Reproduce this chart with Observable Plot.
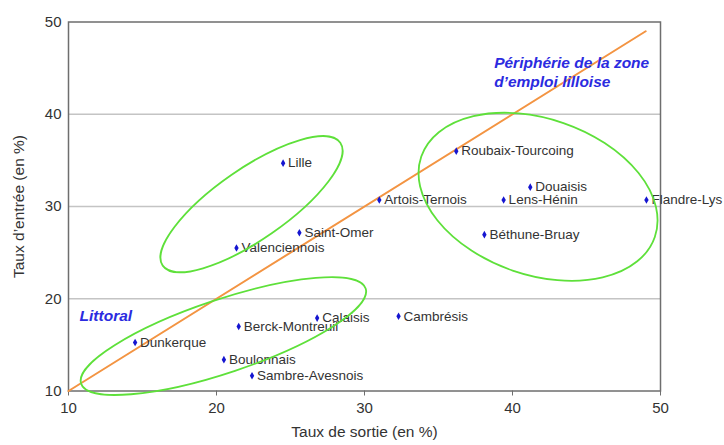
<!DOCTYPE html>
<html><head><meta charset="utf-8">
<script src="https://cdn.jsdelivr.net/npm/d3@7"></script>
<script src="https://cdn.jsdelivr.net/npm/@observablehq/plot@0.6"></script>
<style>
html,body{margin:0;padding:0;background:#fff;}
svg{font-family:"Liberation Sans",Arial,sans-serif;}
</style></head>
<body><div id="chart"></div>
<script>
const zones = ["Lille","Saint-Omer","Valenciennois","Calaisis","Berck-Montreuil","Dunkerque","Boulonnais","Sambre-Avesnois","Roubaix-Tourcoing","Douaisis","Artois-Ternois","Lens-Hénin","Flandre-Lys","Béthune-Bruay","Cambrésis"];
const tauxSortie = [24.5,25.6,21.35,26.8,21.5,14.5,20.5,22.4,36.2,41.2,31.0,39.4,49.05,38.1,32.3];
const tauxEntree = [34.7,27.15,25.5,17.9,17.0,15.25,13.4,11.65,36.0,32.1,30.7,30.7,30.7,26.95,18.1];
const diagX = [10,49];
const diagY = [10,49];
const gridY = [20,30,40];
const xTicks = [10,20,30,40,50];
const yTicks = [10,20,30,40,50];
// groupes : centre (données), demi-axes (px), rotation (deg)
const groupCx = [22.4,20.5,41.76];
const groupCy = [30.2,15.9,31.0];
const groupRx = [108,150,123.5];
const groupRy = [35.5,36.6,78];
const groupRot = [-34.7,-18.5,19];
const annoText = ["Littoral","Périphérie de la zone","d’emploi lilloise"];
const annoX = [10.75,38.76,38.76];
const annoY = [18.1,45.6,43.5];

const pts = zones.map((z,i)=>({zone:z,x:tauxSortie[i],y:tauxEntree[i]}));
const diag = diagX.map((x,i)=>({x,y:diagY[i]}));
const annos = annoText.map((t,i)=>({t,x:annoX[i],y:annoY[i]}));

const chart = Plot.plot({
  width:724, height:445,
  marginLeft:68, marginRight:64, marginTop:21.5, marginBottom:54.5,
  style:{fontFamily:"Liberation Sans, Arial, sans-serif", background:"#fff"},
  x:{domain:[10,50], ticks:xTicks, label:"Taux de sortie (en %)", labelAnchor:"center", labelArrow:"none"},
  y:{domain:[10,50], ticks:yTicks, label:"Taux d’entrée (en %)", labelAnchor:"center", labelArrow:"none"},
  marks:[
    Plot.ruleY(gridY,{stroke:"#c4c4c4", strokeWidth:1.5}),
    Plot.frame({stroke:"#6e6e6e", strokeWidth:1.5}),
    Plot.axisX({ticks:xTicks, tickSize:5, tickPadding:6, fontSize:15, color:"#333", stroke:"#6e6e6e", label:null}),
    Plot.axisY({ticks:yTicks, tickSize:0, tickPadding:7, fontSize:15, color:"#333", label:null}),
    Plot.text(["Taux de sortie (en %)"],{frameAnchor:"bottom", dy:46, fontSize:15.5, fill:"#333"}),
    Plot.text(["Taux d’entrée (en %)"],{frameAnchor:"left", dx:-49, rotate:-90, textAnchor:"middle", fontSize:15.5, fill:"#333"}),
    Plot.line(diag,{x:"x",y:"y",stroke:"#f39442",strokeWidth:2}),
    Plot.dot(pts,{x:"x",y:"y",symbol:"diamond",r:2.3,fill:"#1515d0",stroke:"none"}),
    Plot.text(pts,{x:"x",y:"y",text:"zone",textAnchor:"start",dx:5,fontSize:13.5,fill:"#333"}),
    Plot.text(annos,{x:"x",y:"y",text:"t",textAnchor:"start",fontSize:15.5,fontWeight:"bold",fontStyle:"italic",fill:"#2b2be0"})
  ]
});
const sx = chart.scale("x"), sy = chart.scale("y");
const svg = d3.select(chart.tagName.toLowerCase()==="svg"?chart:chart.querySelector("svg"));
const g = svg.append("g").attr("fill","none").attr("stroke","#5ee03a").attr("stroke-width",1.8);
groupCx.forEach((cx,i)=>{
  const px = sx.apply(cx), py = sy.apply(groupCy[i]);
  g.append("ellipse").attr("cx",0).attr("cy",0).attr("rx",groupRx[i]).attr("ry",groupRy[i])
   .attr("transform",`translate(${px},${py}) rotate(${groupRot[i]})`);
});
document.getElementById("chart").appendChild(chart);
</script></body></html>
